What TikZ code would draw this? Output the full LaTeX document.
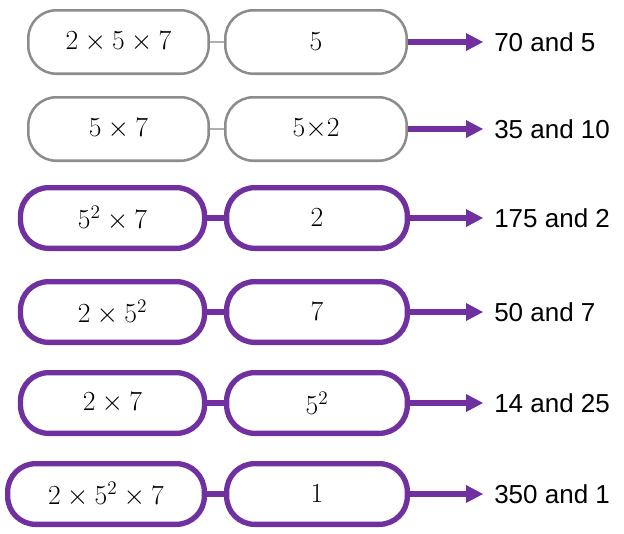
\documentclass[tikz,border=0pt]{standalone}
\usepackage{fontspec}
\setmainfont{Liberation Sans}
\usetikzlibrary{arrows.meta}
\definecolor{factpurple}{RGB}{112,48,160}
\definecolor{factgrey}{RGB}{140,140,140}

\begin{document}
\begin{tikzpicture}[x=0.75pt, y=-0.75pt,
    every node/.style={font=\fontsize{19.5}{23}\selectfont},
    greypill/.style={draw=factgrey, line width=1.9pt, rounded corners=21pt,
        minimum height=47.6pt, inner sep=0pt},
    purplepill/.style={draw=factpurple, line width=4pt, rounded corners=21pt,
        minimum height=45.5pt, inner sep=0pt},
    greylink/.style={draw=factgrey!70, line width=0.9pt},
    purplelink/.style={draw=factpurple, line width=4pt},
    result/.style={draw=factpurple, line width=4pt, shorten >=8pt,
        -{Triangle[length=13pt, width=12.5pt]}},
    answer/.style={anchor=west, inner sep=0pt}]
    \useasboundingbox (0,0) rectangle (624,533);

    % 2 x 5 x 7 and 5
    \node[greypill, minimum width=135.3pt] (a1) at (118.5,42) {$2\times5\times7$};
    \node[greypill, minimum width=136pt] (b1) at (316,42) {$5$};
    \node[answer] (t1) at (494,42) {70 and 5};
    \draw[greylink] (a1) -- (b1);
    \draw[result] (b1) -- (t1);

    % 5 x 7 and 5 x 2
    \node[greypill, minimum width=135.3pt] (a2) at (118.5,129) {$5\times7$};
    \node[greypill, minimum width=136pt] (b2) at (316,129) {$5{\times}2$};
    \node[answer] (t2) at (494,129) {35 and 10};
    \draw[greylink] (a2) -- (b2);
    \draw[result] (b2) -- (t2);

    % 5^2 x 7 and 2
    \node[purplepill, minimum width=138pt] (a3) at (112.5,218) {$5^2\times7$};
    \node[purplepill, minimum width=135.5pt] (b3) at (317,218) {$2$};
    \node[answer] (t3) at (494,218) {175 and 2};
    \draw[purplelink] (a3) -- (b3);
    \draw[result] (b3) -- (t3);

    % 2 x 5^2 and 7
    \node[purplepill, minimum width=138pt] (a4) at (112.5,312) {$2\times5^2$};
    \node[purplepill, minimum width=135.5pt] (b4) at (317,312) {$7$};
    \node[answer] (t4) at (494,312) {50 and 7};
    \draw[purplelink] (a4) -- (b4);
    \draw[result] (b4) -- (t4);

    % 2 x 7 and 5^2
    \node[purplepill, minimum width=138pt] (a5) at (112.5,403) {$2\times7$};
    \node[purplepill, minimum width=135.5pt] (b5) at (317,403) {$5^2$};
    \node[answer] (t5) at (494,403) {14 and 25};
    \draw[purplelink] (a5) -- (b5);
    \draw[result] (b5) -- (t5);

    % 2 x 5^2 x 7 and 1
    \node[purplepill, minimum width=147.5pt] (a6) at (106,494) {$2\times5^2\times7$};
    \node[purplepill, minimum width=135.5pt] (b6) at (317,494) {$1$};
    \node[answer] (t6) at (494,494) {350 and 1};
    \draw[purplelink] (a6) -- (b6);
    \draw[result] (b6) -- (t6);
\end{tikzpicture}
\end{document}
